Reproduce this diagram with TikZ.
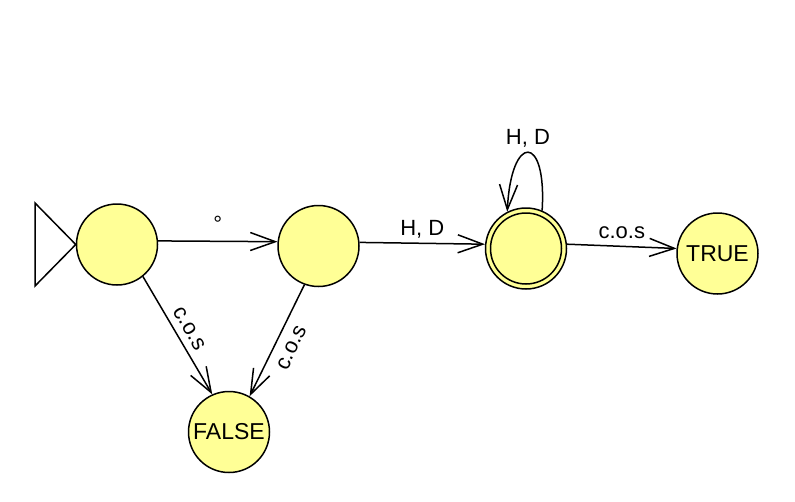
\documentclass[tikz,border=0pt]{standalone}
\usepackage{fontspec}
\setmainfont{Liberation Sans}
\usetikzlibrary{arrows.meta}
\definecolor{stfill}{RGB}{255,255,150}
\begin{document}
\begin{tikzpicture}[x=1pt,y=-1pt,
  state/.style={circle,draw,line width=1.5pt,fill=stfill,minimum size=81pt,inner sep=0pt,font=\fontsize{23}{27}\selectfont},
  innerring/.style={circle,draw,line width=1.5pt,minimum size=71pt,inner sep=0pt},
  edge/.style={line width=1.5pt,-{Straight Barb[length=25pt,width=18pt]}},
  lbl/.style={font=\fontsize{22}{26}\selectfont,inner sep=2pt,text depth=5pt}
]
\useasboundingbox (0,0) rectangle (795,501);
\node[state] (q0) at (117,244.5) {};
\node[state] (q1) at (318.5,246) {};
\node[state] (q2) at (526,248.5) {};
\node[innerring] (q2in) at (526,248.5) {};
\node[state] (t) at (717.5,253.5) {\raisebox{-3pt}{TRUE}};
\node[state] (f) at (229,432) {\raisebox{-3pt}{FALSE}};
\draw[line width=1.5pt,fill=white] (35,203) -- (35,286) -- (q0.west) -- cycle;
\draw[edge] (q0.5) -- node[lbl,above=2pt]{°} (q1.174);
\draw[edge] (q1.5) -- node[lbl,above]{H, D} (q2.174);
\draw[edge] (q2.6) -- node[lbl,above]{c.o.s} (t.173);
\draw[edge] (q0.-51) -- node[lbl,sloped,above]{c.o.s} (f.114);
\draw[edge] (q1.-110) -- node[lbl,sloped,below=8pt]{c.o.s} (f.60);
\draw[edge] (q2.67) .. controls (547,133) and (511,133) .. node[lbl,pos=0.5,above]{H, D} (q2.117);
\end{tikzpicture}
\end{document}
